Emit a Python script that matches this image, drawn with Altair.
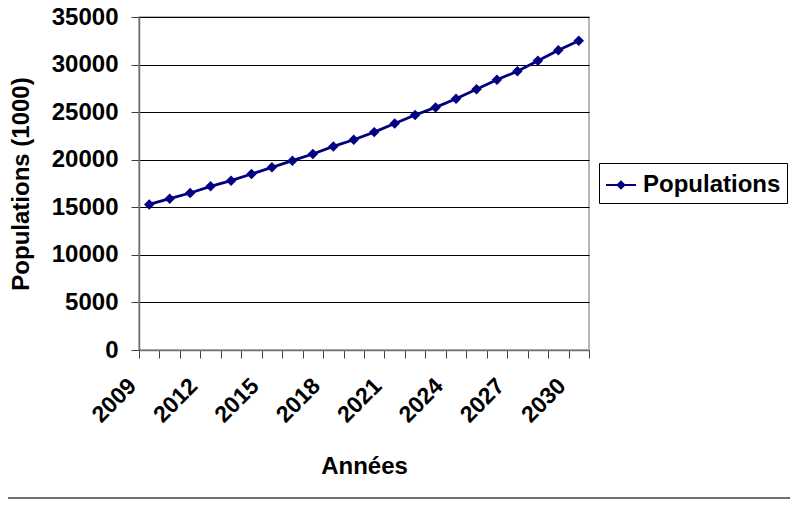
import altair as alt
import pandas as pd

years = [2009, 2010, 2011, 2012, 2013, 2014, 2015, 2016, 2017, 2018, 2019,
         2020, 2021, 2022, 2023, 2024, 2025, 2026, 2027, 2028, 2029, 2030]
populations = [15300, 15900, 16500, 17200, 17800, 18500, 19200, 19900, 20600,
               21400, 22100, 22900, 23800, 24700, 25500, 26400, 27400, 28400,
               29300, 30400, 31500, 32500]
series_name = "Populations"
y_ticks = [0, 5000, 10000, 15000, 20000, 25000, 30000, 35000]

df = pd.DataFrame({"Année": years, "Populations": populations,
                   "Série": [series_name] * len(years)})

# category boundaries (Excel-style ticks between categories)
boundaries = [y - 0.5 for y in years] + [years[-1] + 0.5]

FONT = "Liberation Sans"
NAVY = "#000080"

x_enc = alt.X(
    "Année:Q",
    scale=alt.Scale(domain=[years[0] - 0.5, years[-1] + 0.5], nice=False, zero=False),
    axis=alt.Axis(
        values=boundaries,
        labelExpr="(datum.value + 0.5 - 2009) % 3 == 0 ? format(datum.value + 0.5, 'd') : ''",
        labelAngle=315, labelAlign="right", labelBaseline="alphabetic",
        labelPadding=29, labelOffset=-2, labelOverlap=False, labelFlush=False,
        tickSize=8, grid=False,
        title="Années", titleY=123, titleBaseline="alphabetic",
    ),
)
y_enc = alt.Y(
    "Populations:Q",
    scale=alt.Scale(domain=[0, 35000], nice=False),
    axis=alt.Axis(
        values=y_ticks, tickSize=8, labelPadding=13, grid=True,
        gridColor="#000000", gridWidth=1, format="d", labelFontSize=24,
        title="Populations (1000)", titleX=-111, titleY=166.5,
        titleBaseline="alphabetic", titleAngle=270, titleAlign="center",
    ),
)

base = alt.Chart(df)

line = base.mark_line(color=NAVY, strokeWidth=2.8).encode(x=x_enc, y=y_enc)

legend_symbol = "M-1,-0.07H1V0.07H-1Z M0,-0.32L0.32,0L0,0.32L-0.32,0Z"

points = base.mark_point(shape="diamond", filled=True, size=110, opacity=1).encode(
    x=x_enc, y=y_enc,
    color=alt.Color("Série:N", scale=alt.Scale(range=[NAVY]),
                    legend=alt.Legend(title=None, orient="none", legendX=460, legendY=146,
                                      symbolType=legend_symbol, symbolSize=900,
                                      labelFontSize=24, labelFont=FONT, labelFontWeight="bold",
                                      labelColor="#000000", labelOffset=6,
                                      strokeColor="#000000", fillColor="#ffffff",
                                      padding=6)),
)

rule = alt.Chart(alt.Data(values=[{"a": 1}])).mark_rule(color="#707070", strokeWidth=2).encode(
    x=alt.value(-131), x2=alt.value(660), y=alt.value(481)
)

chart = alt.layer(rule, line, points).properties(
    width=450, height=333, autosize="none",
    padding={"left": 131, "top": 9, "right": 201, "bottom": 149},
    background="#ffffff",
).configure_axis(
    labelFont=FONT, labelFontWeight="bold", labelFontSize=23, labelColor="#000000",
    titleFont=FONT, titleFontWeight="bold", titleFontSize=24, titleColor="#000000",
    domainColor="#707070", domainWidth=1.5, tickColor="#404040", tickWidth=1,
).configure_view(stroke="#a0a0a0", strokeWidth=1.5)

chart.save("out.html", embed_options={"renderer": "svg", "actions": False})
